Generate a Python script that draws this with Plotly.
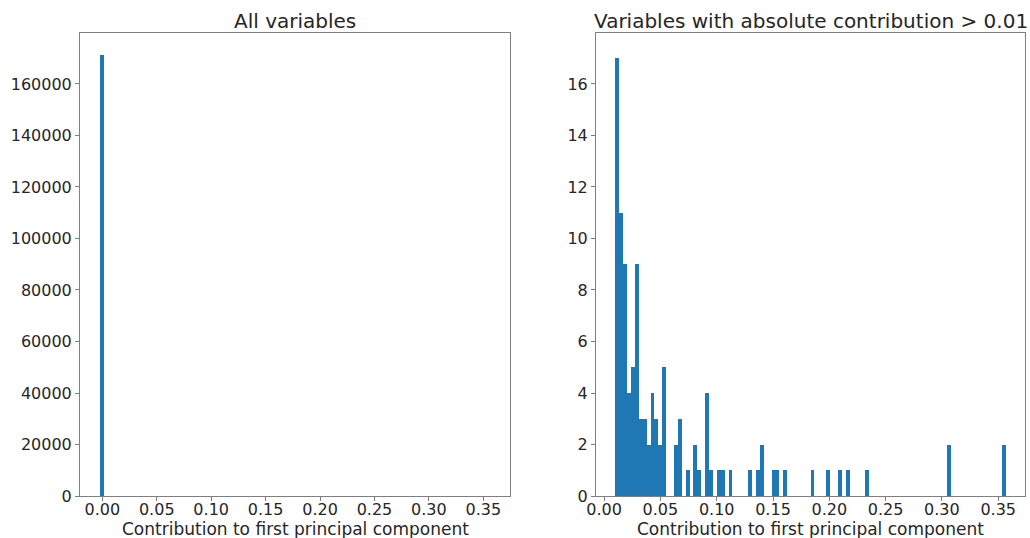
import plotly.graph_objects as go

# ---------------- data ----------------
# Left histogram: all variables (100 bins between min and max contribution)
left_min = -0.0018
left_max = 0.3565
left_nbins = 100
left_bin_index = [0]          # only the first bin is visibly populated
left_counts = [171200]

# Right histogram: variables with |contribution| > 0.01 (100 bins)
right_min = 0.0101
right_max = 0.3565
right_nbins = 100
right_bin_index = [0, 1, 2, 3, 4, 5, 6, 7, 8, 9, 10, 11, 12, 15, 16, 18, 20, 21,
                   23, 24, 26, 27, 29, 34, 36, 37, 40, 41, 43, 50, 54, 57, 59, 64,
                   85, 99]
right_counts = [17, 11, 9, 4, 5, 9, 3, 3, 2, 4, 3, 2, 5, 2, 3, 1, 2, 1,
                4, 1, 1, 1, 1, 1, 1, 2, 1, 1, 1, 1, 1, 1, 1, 1,
                2, 2]

x_ticks = [0.00, 0.05, 0.10, 0.15, 0.20, 0.25, 0.30, 0.35]
left_y_ticks = [0, 20000, 40000, 60000, 80000, 100000, 120000, 140000, 160000]
right_y_ticks = [0, 2, 4, 6, 8, 10, 12, 14, 16]

titles = ["All variables", "Variables with absolute contribution > 0.01"]
x_label = "Contribution to first principal component"

# ---------------- figure ----------------
BAR = "#1f77b4"
SPINE = "#7f7f7f"
TXT = "#262626"
FONT = "DejaVu Sans"

lw = (left_max - left_min) / left_nbins
rw = (right_max - right_min) / right_nbins
left_centers = [left_min + (i + 0.5) * lw for i in left_bin_index]
right_centers = [right_min + (i + 0.5) * rw for i in right_bin_index]

fig = go.Figure()
fig.add_trace(go.Bar(x=left_centers, y=left_counts, width=[lw] * len(left_centers),
                     marker=dict(color=BAR, line=dict(width=0)),
                     xaxis="x", yaxis="y", showlegend=False))
fig.add_trace(go.Bar(x=right_centers, y=right_counts, width=[rw] * len(right_centers),
                     marker=dict(color=BAR, line=dict(width=0)),
                     xaxis="x2", yaxis="y2", showlegend=False))

W, H = 1030, 538
ax_l = (80 / W, 510 / W)
ax_r = (596 / W, 1025 / W)
ydom = (1 - 496 / H, 1 - 33 / H)

common_axis = dict(showline=True, mirror=True, linecolor=SPINE, linewidth=1,
                   ticks="outside", ticklen=4, tickwidth=1, tickcolor=SPINE,
                   showgrid=False, zeroline=False, automargin=False,
                   tickfont=dict(family=FONT, size=16, color=TXT))

fig.update_layout(
    template="none",
    width=W, height=H,
    margin=dict(l=0, r=0, t=0, b=0, pad=0),
    paper_bgcolor="white", plot_bgcolor="white",
    bargap=0,
    font=dict(family=FONT, color=TXT),
    xaxis=dict(domain=ax_l, range=[-0.0205, 0.3745], tickvals=x_ticks,
               tickformat=".2f", anchor="y", ticklabelstandoff=-5, **common_axis),
    yaxis=dict(domain=ydom, range=[0, 179800], tickvals=left_y_ticks,
               tickformat="d", anchor="x", **common_axis),
    xaxis2=dict(domain=ax_r, range=[-0.0072, 0.3738], tickvals=x_ticks,
                tickformat=".2f", anchor="y2", ticklabelstandoff=-5, **common_axis),
    yaxis2=dict(domain=ydom, range=[0, 17.98], tickvals=right_y_ticks,
                tickformat="d", anchor="x2", **common_axis),
)

annotations = []
for dom, t in zip([ax_l, ax_r], titles):
    cx = (dom[0] + dom[1]) / 2
    annotations.append(dict(text=t, x=cx, y=1 - 33 / H - 0.003, xref="paper", yref="paper",
                            xanchor="center", yanchor="bottom", showarrow=False,
                            font=dict(family=FONT, size=20, color=TXT)))
    annotations.append(dict(text=x_label, x=cx, y=-0.006, xref="paper", yref="paper",
                            xanchor="center", yanchor="bottom", showarrow=False,
                            font=dict(family=FONT, size=17, color=TXT)))
fig.update_layout(annotations=annotations)

fig.write_html("out.html")
